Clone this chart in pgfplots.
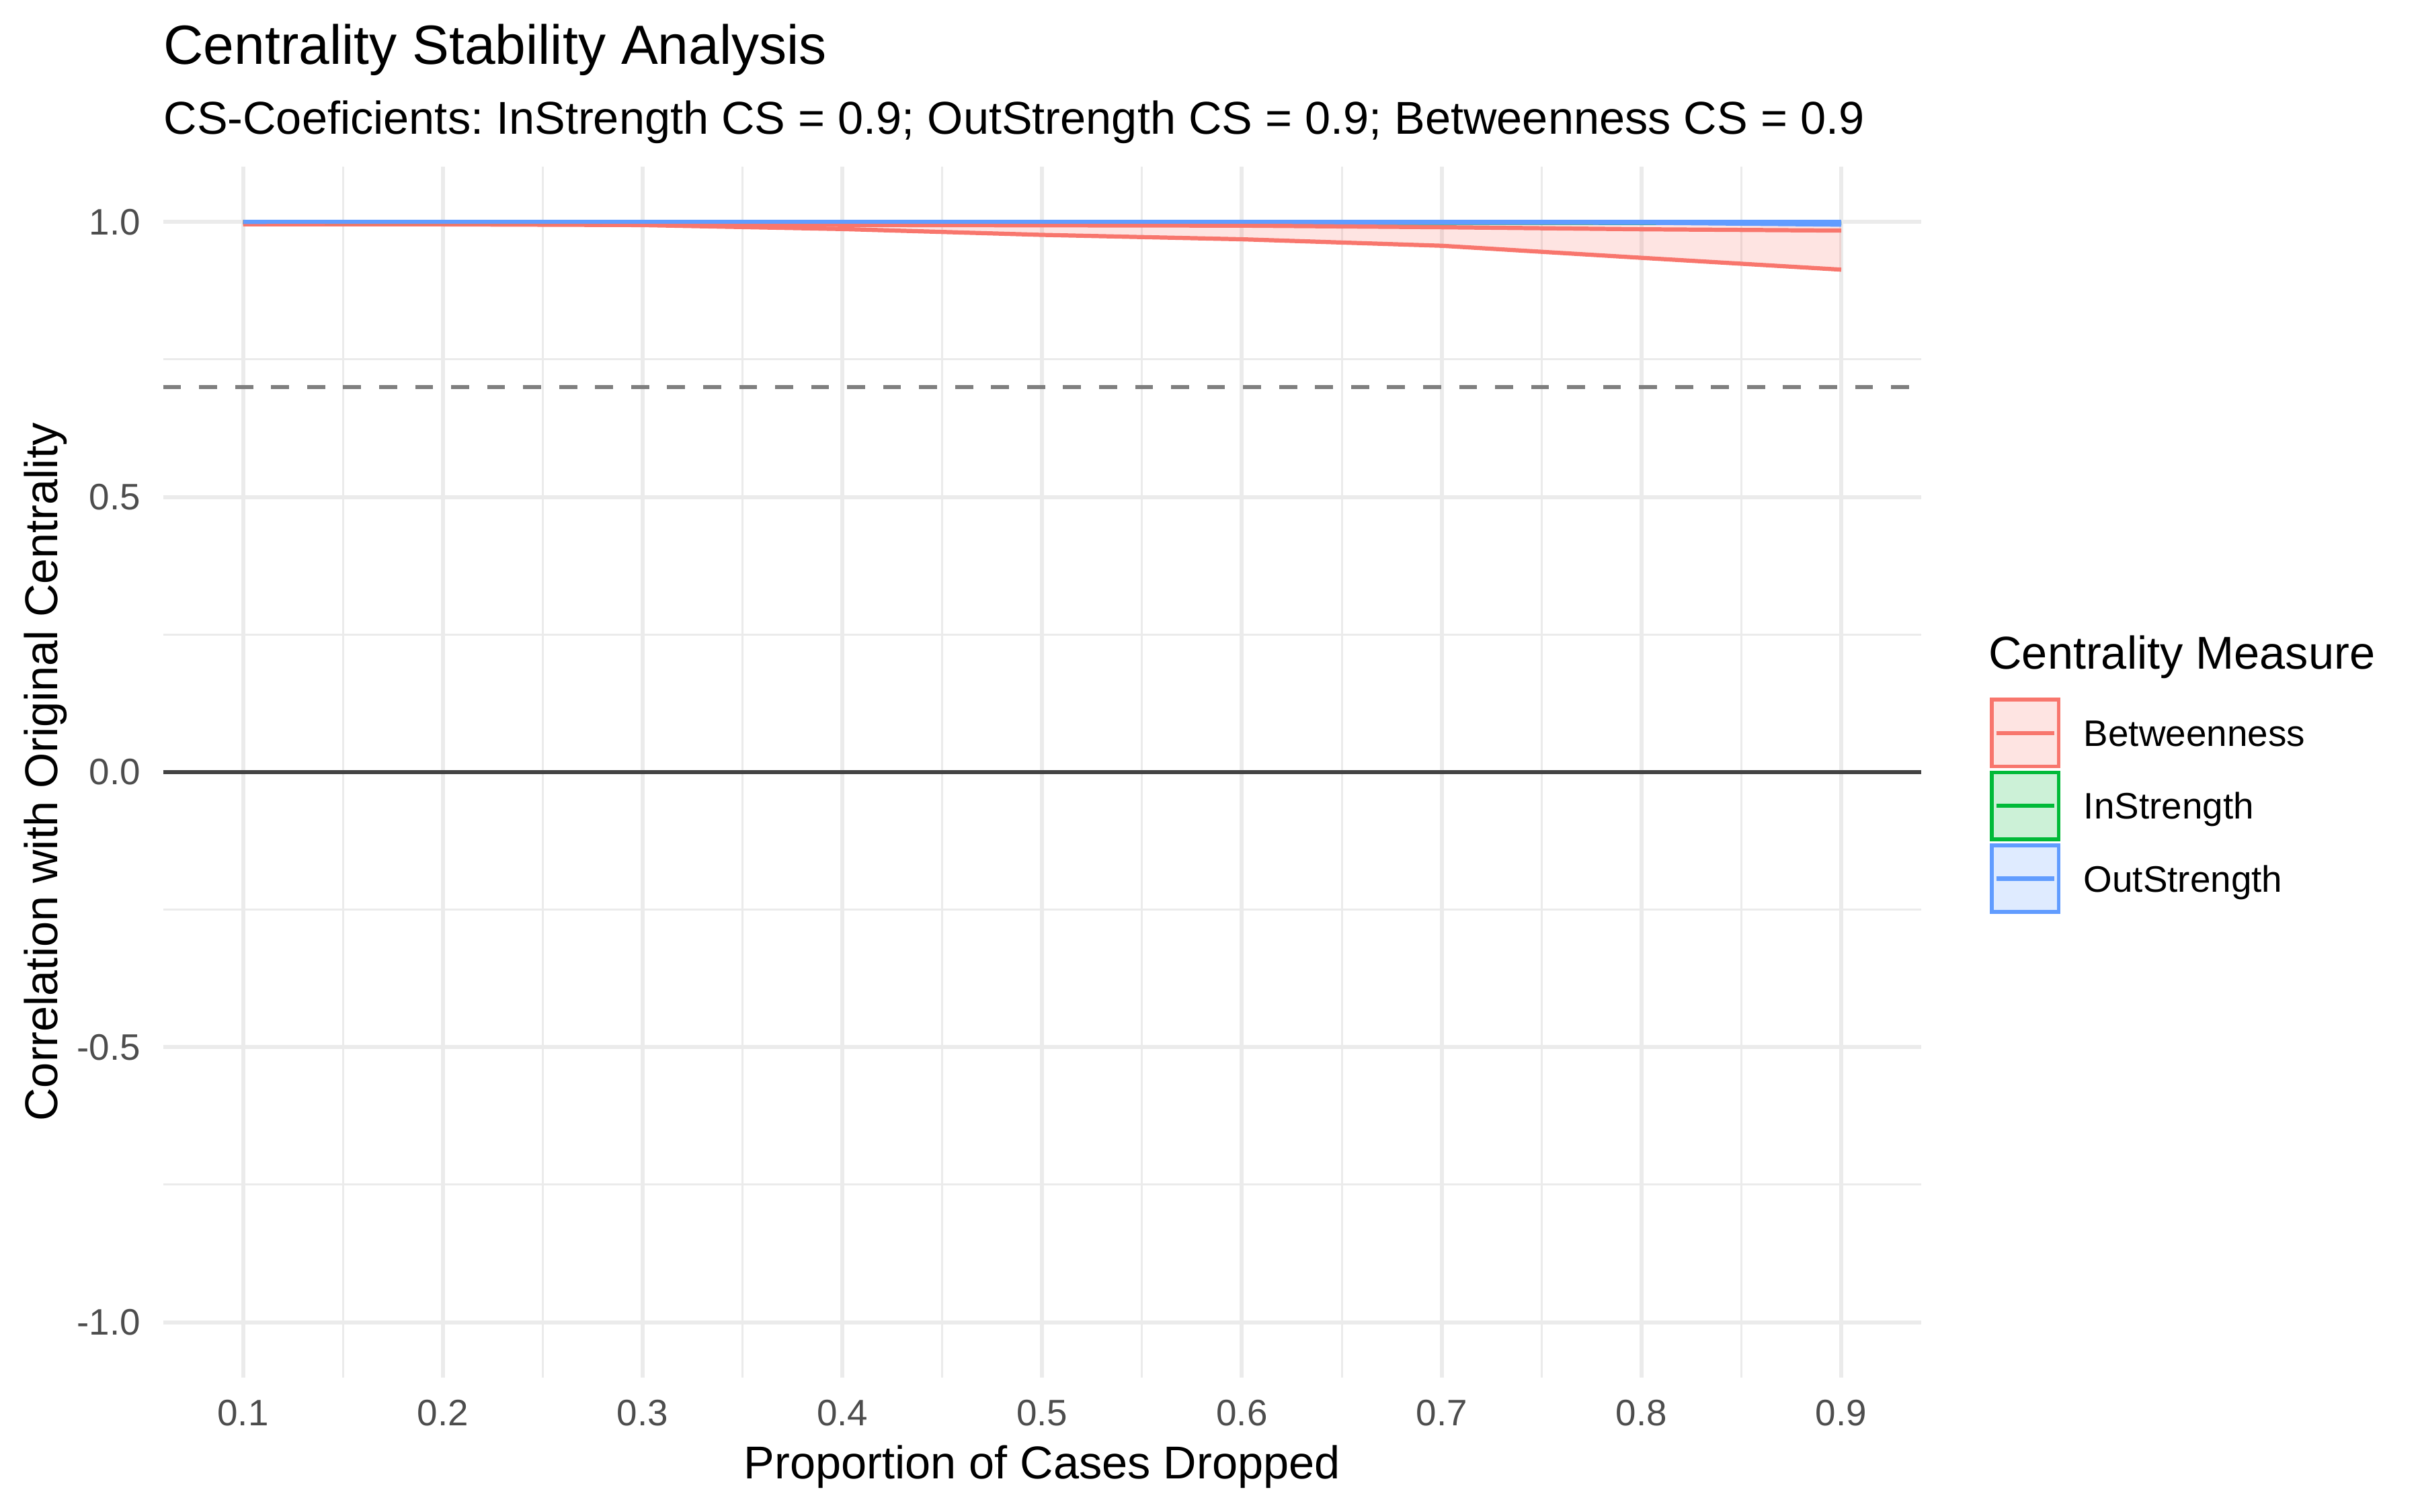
\documentclass[border=0pt]{standalone}
\usepackage{fontspec}
\setmainfont{Liberation Sans}
\usepackage{pgfplots}
\pgfplotsset{compat=1.18}
\definecolor{cB}{HTML}{F8766D}
\definecolor{cI}{HTML}{00BA38}
\definecolor{cO}{HTML}{619CFF}
\definecolor{gridc}{HTML}{EBEBEB}
\definecolor{tickc}{HTML}{4D4D4D}
\definecolor{zeroc}{HTML}{434343}
\definecolor{dashc}{HTML}{7F7F7F}
\frenchspacing
\begin{document}
\begin{tikzpicture}
\useasboundingbox (0,0) rectangle (867.24pt,542.03pt);
\begin{axis}[
  at={(58.47pt,48.3pt)}, anchor=south west,
  scale only axis, width=630.0pt, height=433.9pt,
  xmin=0.06, xmax=0.94, ymin=-1.1, ymax=1.1,
  xtick={0.1,0.2,0.3,0.4,0.5,0.6,0.7,0.8,0.9},
  xticklabels={0.1,0.2,0.3,0.4,0.5,0.6,0.7,0.8,0.9},
  minor xtick={0.15,0.25,0.35,0.45,0.55,0.65,0.75,0.85},
  ytick={-1,-0.5,0,0.5,1},
  yticklabels={-1.0,-0.5,0.0,0.5,1.0},
  minor ytick={-0.75,-0.25,0.25,0.75},
  grid=both,
  major grid style={draw=gridc, line width=1.45pt},
  minor grid style={draw=gridc, line width=0.72pt},
  axis line style={draw=none},
  major tick length=0pt, minor tick length=0pt,
  tick style={draw=none},
  /pgf/number format/assume math mode=true,
  tick label style={font=\fontsize{13.2}{15.8}\selectfont, text=tickc},
  xticklabel style={anchor=base, yshift=-17.4pt, inner sep=0pt},
  yticklabel style={anchor=east, xshift=-7.9pt, inner sep=0pt},
  label style={font=\fontsize{16.5}{19.8}\selectfont, text=black, inner sep=0pt},
  xlabel={Proportion of Cases Dropped},
  ylabel={Correlation with Original Centrality},
  xlabel style={at={(axis description cs:0.5,-0.0836)}, anchor=base},
  ylabel style={at={(axis description cs:-0.06027,0.5)}, anchor=base},
  legend cell align=left,
  legend style={at={(axis description cs:1.0392,0.5614)}, anchor=north west,
    draw=none, fill=none, inner sep=0pt, outer sep=0pt,
    row sep=0.8pt, column sep=0pt,
    font=\fontsize{13.2}{15.8}\selectfont,
    nodes={inner sep=0pt, text height=9.45pt, text depth=0pt},
    /tikz/every odd column/.append style={column sep=8.3pt}},
]
% reference lines
\addplot[forget plot, draw=zeroc, line width=1.5pt] coordinates {(0.06,0) (0.94,0)};
\addplot[forget plot, draw=dashc, line width=1.5pt, dash pattern=on 6.45pt off 6.45pt] coordinates {(0.06,0.7) (0.94,0.7)};

% Betweenness ribbon
\addplot[forget plot, fill=cB, fill opacity=0.2, draw=none] coordinates {
 (0.1,1.0) (0.2,1.0) (0.3,0.9999) (0.4,0.9997) (0.5,0.9995) (0.6,0.9993) (0.7,0.9990) (0.8,0.9987) (0.9,0.9985)
 (0.9,0.9132) (0.8,0.9347) (0.7,0.9566) (0.6,0.9684) (0.5,0.9764) (0.4,0.9870) (0.3,0.9942) (0.2,0.9955) (0.1,0.9958)};
\addplot[forget plot, draw=cB, line width=1.5pt, line join=round] coordinates {
 (0.1,1.0) (0.2,1.0) (0.3,0.9999) (0.4,0.9997) (0.5,0.9995) (0.6,0.9993) (0.7,0.9990) (0.8,0.9987) (0.9,0.9985)};
\addplot[forget plot, draw=cB, line width=1.5pt, line join=round] coordinates {
 (0.1,0.9958) (0.2,0.9955) (0.3,0.9942) (0.4,0.9870) (0.5,0.9764) (0.6,0.9684) (0.7,0.9566) (0.8,0.9347) (0.9,0.9132)};

% InStrength ribbon
\addplot[forget plot, fill=cI, fill opacity=0.2, draw=none] coordinates {
 (0.1,1.0) (0.2,1.0) (0.3,1.0) (0.4,1.0) (0.5,1.0) (0.6,1.0) (0.7,1.0) (0.8,1.0) (0.9,1.0)
 (0.9,0.9980) (0.8,0.9982) (0.7,0.9984) (0.6,0.9986) (0.5,0.9988) (0.4,0.9989) (0.3,0.9990) (0.2,0.9991) (0.1,0.9992)};
\addplot[forget plot, draw=cI, line width=1.5pt, line join=round] coordinates {
 (0.1,1.0) (0.2,1.0) (0.3,1.0) (0.4,1.0) (0.5,1.0) (0.6,1.0) (0.7,1.0) (0.8,1.0) (0.9,1.0)};
\addplot[forget plot, draw=cI, line width=1.5pt, line join=round] coordinates {
 (0.1,0.9992) (0.2,0.9991) (0.3,0.9990) (0.4,0.9989) (0.5,0.9988) (0.6,0.9986) (0.7,0.9984) (0.8,0.9982) (0.9,0.9980)};

% OutStrength ribbon
\addplot[forget plot, fill=cO, fill opacity=0.2, draw=none] coordinates {
 (0.1,1.0) (0.2,1.0) (0.3,1.0) (0.4,1.0) (0.5,1.0) (0.6,1.0) (0.7,1.0) (0.8,1.0) (0.9,1.0)
 (0.9,0.9950) (0.8,0.9985) (0.7,0.9987) (0.6,0.9989) (0.5,0.9990) (0.4,0.9991) (0.3,0.9992) (0.2,0.9993) (0.1,0.9994)};
\addplot[forget plot, draw=cO, line width=1.5pt, line join=round] coordinates {
 (0.1,1.0) (0.2,1.0) (0.3,1.0) (0.4,1.0) (0.5,1.0) (0.6,1.0) (0.7,1.0) (0.8,1.0) (0.9,1.0)};
\addplot[forget plot, draw=cO, line width=1.5pt, line join=round] coordinates {
 (0.1,0.9994) (0.2,0.9993) (0.3,0.9992) (0.4,0.9991) (0.5,0.9990) (0.6,0.9989) (0.7,0.9987) (0.8,0.9985) (0.9,0.9950)};

% mean lines
\addplot[forget plot, draw=cB, line width=1.5pt, line join=round] coordinates {
 (0.1,0.9995) (0.2,0.9992) (0.3,0.9980) (0.4,0.9945) (0.5,0.9938) (0.6,0.9932) (0.7,0.9903) (0.8,0.9866) (0.9,0.9842)};
\addplot[forget plot, draw=cI, line width=1.5pt, line join=round] coordinates {
 (0.1,0.9999) (0.2,0.9999) (0.3,0.9999) (0.4,0.9999) (0.5,0.9999) (0.6,0.9999) (0.7,0.9999) (0.8,0.9999) (0.9,0.9999)};
\addplot[forget plot, draw=cO, line width=1.5pt, line join=round] coordinates {
 (0.1,0.9998) (0.2,0.9998) (0.3,0.9998) (0.4,0.9998) (0.5,0.9998) (0.6,0.9998) (0.7,0.9998) (0.8,0.9998) (0.9,0.9998)};

% legend
\addlegendimage{legend image code/.code={
  \draw[draw=cB, fill=cB, fill opacity=0.2, line width=1.4pt] (0.7pt,-11.95pt) rectangle (24.6pt,11.95pt);
  \draw[draw=cB, line width=1.5pt] (2.2pt,0pt) -- (23.1pt,0pt);}}
\addlegendentry{Betweenness}
\addlegendimage{legend image code/.code={
  \draw[draw=cI, fill=cI, fill opacity=0.2, line width=1.4pt] (0.7pt,-11.95pt) rectangle (24.6pt,11.95pt);
  \draw[draw=cI, line width=1.5pt] (2.2pt,0pt) -- (23.1pt,0pt);}}
\addlegendentry{InStrength}
\addlegendimage{legend image code/.code={
  \draw[draw=cO, fill=cO, fill opacity=0.2, line width=1.4pt] (0.7pt,-11.95pt) rectangle (24.6pt,11.95pt);
  \draw[draw=cO, line width=1.5pt] (2.2pt,0pt) -- (23.1pt,0pt);}}
\addlegendentry{OutStrength}
\end{axis}
\node[anchor=base west, inner sep=0pt, font=\fontsize{19.8}{23.8}\selectfont] at (58.47pt,519.1pt) {Centrality Stability Analysis};
\node[anchor=base west, inner sep=0pt, font=\fontsize{16.5}{19.8}\selectfont] at (58.47pt,494.0pt) {CS-Coeficients: InStrength CS = 0.9; OutStrength CS = 0.9; Betweenness CS = 0.9};
\node[anchor=base west, inner sep=0pt, font=\fontsize{16.5}{19.8}\selectfont] at (712.5pt,302.3pt) {Centrality Measure};
\end{tikzpicture}
\end{document}
